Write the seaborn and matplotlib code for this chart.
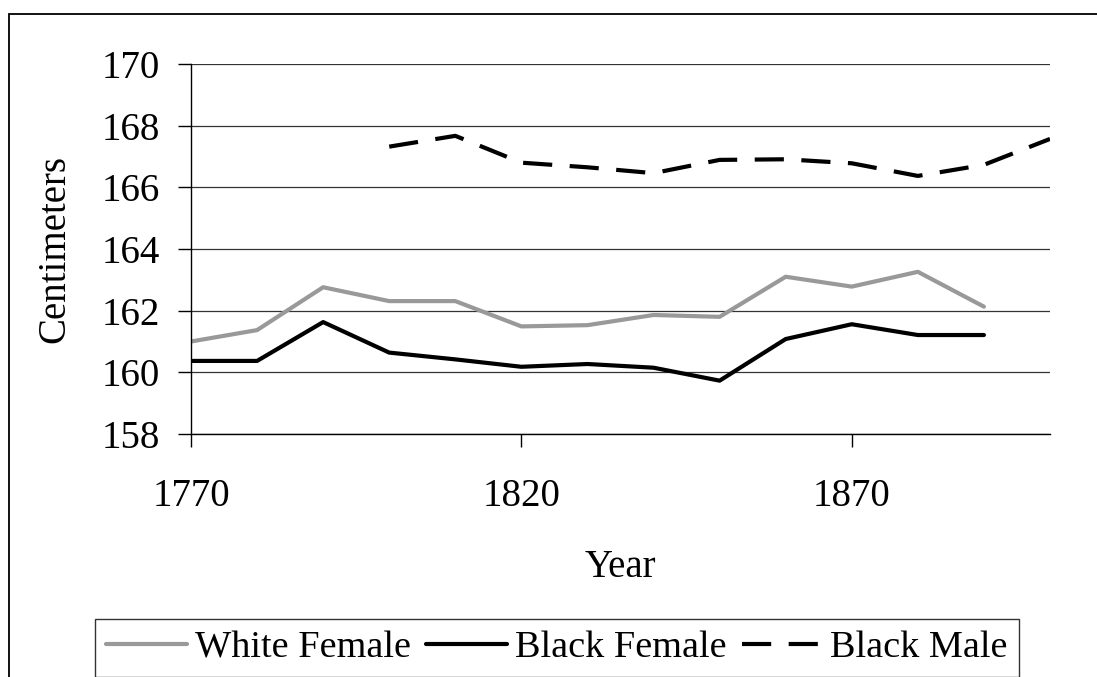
import matplotlib
matplotlib.use("Agg")
import matplotlib.pyplot as plt
import matplotlib.patches as mpatches
import seaborn as sns
import pandas as pd

# values
years_female = [1770, 1780, 1790, 1800, 1810, 1820, 1830, 1840, 1850, 1860, 1870, 1880, 1890]
white_female = [161.0, 161.37, 162.76, 162.31, 162.31, 161.49, 161.53, 161.86, 161.80, 163.10, 162.78, 163.26, 162.13]
black_female = [160.37, 160.37, 161.63, 160.64, 160.42, 160.18, 160.27, 160.15, 159.73, 161.08, 161.56, 161.21, 161.21]
years_male = [1800, 1810, 1820, 1830, 1840, 1850, 1860, 1870, 1880, 1890, 1900]
black_male = [167.32, 167.67, 166.80, 166.65, 166.46, 166.89, 166.91, 166.78, 166.37, 166.73, 167.57]

series_names = ["White Female", "Black Female", "Black Male"]
y_ticks = [158, 160, 162, 164, 166, 168, 170]
x_ticks = [1770, 1820, 1870]

df = pd.concat([
    pd.DataFrame({"Year": years_female, "cm": white_female, "Series": "White Female"}),
    pd.DataFrame({"Year": years_female, "cm": black_female, "Series": "Black Female"}),
    pd.DataFrame({"Year": years_male, "cm": black_male, "Series": "Black Male"}),
])

sns.set_style("white")
plt.rcParams["font.family"] = ["Liberation Serif", "DejaVu Serif"]
plt.rcParams["text.color"] = "black"
plt.rcParams["axes.labelcolor"] = "black"
fs = 28
lw = 3.0

W, H = 1097, 677
fig = plt.figure(figsize=(W / 100, H / 100), dpi=100)
ax = fig.add_axes([191 / W, 1 - 434 / H, (1050 - 191) / W, (434 - 64) / H])

palette = {"White Female": "#999999", "Black Female": "black", "Black Male": "black"}
dashes = {"White Female": "", "Black Female": "", "Black Male": (7.0, 4.2)}
sns.lineplot(data=df, x="Year", y="cm", hue="Series", style="Series",
             hue_order=series_names, style_order=series_names,
             palette=palette, dashes=dashes, linewidth=lw,
             errorbar=None, ax=ax)

ax.set_xlim(1770, 1900)
ax.set_ylim(158, 170)
ax.set_xticks(x_ticks)
ax.set_yticks(y_ticks)
ax.yaxis.grid(True, color="#333333", linewidth=0.9)
ax.set_axisbelow(True)
for s in ["top", "right"]:
    ax.spines[s].set_visible(False)
for s in ["left", "bottom"]:
    ax.spines[s].set_color("black")
    ax.spines[s].set_linewidth(1.0)

ax.tick_params(axis="x", direction="out", length=9.4, width=1, color="black",
               labelcolor="black", labelsize=fs, pad=22, bottom=True)
ax.tick_params(axis="y", direction="out", length=9.4, width=1, color="black",
               labelcolor="black", labelsize=fs, pad=13, left=True)
ax.set_xlabel("Year", fontsize=fs, labelpad=25)
ax.set_ylabel("Centimeters", fontsize=fs, labelpad=20)

handles, labels = ax.get_legend_handles_labels()
ax.get_legend().remove()
for h in handles:
    h.set_linewidth(lw)
leg = fig.legend(handles, labels, loc="upper left",
                 bbox_to_anchor=(95 / W, 1 - 619 / H), ncol=3, fontsize=27.5,
                 frameon=True, fancybox=False, edgecolor="black",
                 handlelength=2.1, handletextpad=0.22, columnspacing=0.4,
                 borderpad=0.3, borderaxespad=0)
leg.get_frame().set_linewidth(1.0)

# outer chart border (cropped at right and bottom)
border = mpatches.Rectangle((9 / W, -0.5), 2, 1 - 14 / H + 0.5,
                            transform=fig.transFigure, fill=False,
                            edgecolor="black", linewidth=1.3)
fig.patches.append(border)

fig.savefig("out.png", dpi=100)
